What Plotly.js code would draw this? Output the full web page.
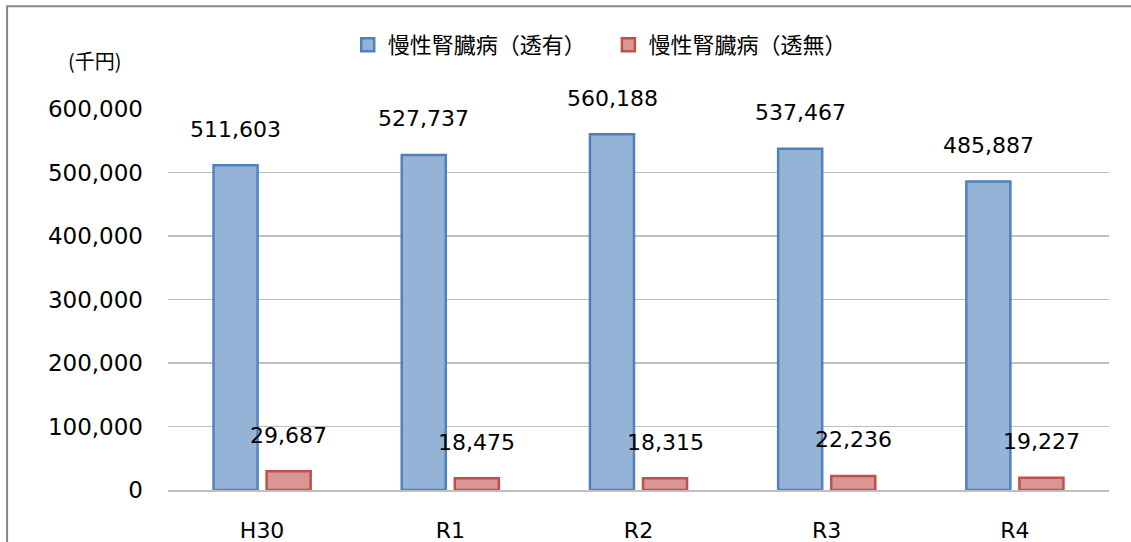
<!DOCTYPE html>
<html>
<head>
<meta charset="utf-8">
<script src="https://cdn.plot.ly/plotly-3.0.1.min.js"></script>
<style>
  html, body { margin: 0; padding: 0; background: #ffffff; }
  #chart { width: 1131px; height: 542px; }
</style>
</head>
<body>
<div id="chart"></div>
<script>
// data
const years = ["H30", "R1", "R2", "R3", "R4"];
const withDialysis = [511603, 527737, 560188, 537467, 485887];
const withoutDialysis = [29687, 18475, 18315, 22236, 19227];
const seriesNames = ["慢性腎臓病（透有）", "慢性腎臓病（透無）"];
const yTicks = [0, 100000, 200000, 300000, 400000, 500000, 600000];

const numFont = "DejaVu Sans, Noto Sans CJK JP, sans-serif";
const jpFont = "Noto Sans CJK JP, DejaVu Sans, sans-serif";

const blue = { fill: "#95B3D7", line: "#4F81BD" };
const red = { fill: "#DA9694", line: "#C0504D" };

const traces = [
  {
    type: "bar",
    x: years,
    y: withDialysis,
    name: seriesNames[0],
    marker: { color: blue.fill, line: { color: blue.line, width: 2.5 } },
    showlegend: false,
    hoverinfo: "none",
  },
  {
    type: "bar",
    x: years,
    y: withoutDialysis,
    name: seriesNames[1],
    marker: { color: red.fill, line: { color: red.line, width: 2.5 } },
    showlegend: false,
    hoverinfo: "none",
  },
  // legend-only entries so the swatches can be the bigger square like Excel
  {
    type: "scatter", mode: "markers", x: [null], y: [null],
    name: seriesNames[0], legend: "legend",
    marker: { symbol: "square", size: 13, color: blue.fill, line: { color: blue.line, width: 2.5 } },
  },
  {
    type: "scatter", mode: "markers", x: [null], y: [null],
    name: seriesNames[1], legend: "legend2",
    marker: { symbol: "square", size: 13, color: red.fill, line: { color: red.line, width: 2.5 } },
  },
];

// value labels sit a bit above each bar
const labels = [];
years.forEach((yr, i) => {
  labels.push({
    x: yr, y: withDialysis[i], xref: "x", yref: "y",
    text: withDialysis[i].toLocaleString("en-US"),
    showarrow: false, xshift: -26.5, yshift: 36,
    font: { family: numFont, size: 22, color: "#000" },
  });
  labels.push({
    x: yr, y: withoutDialysis[i], xref: "x", yref: "y",
    text: withoutDialysis[i].toLocaleString("en-US"),
    showarrow: false, xshift: 26.5, yshift: 36,
    font: { family: numFont, size: 22, color: "#000" },
  });
});
labels.push({
  x: -0.108, y: 1.17, xref: "paper", yref: "paper",
  text: "(千円)", showarrow: false,
  font: { family: jpFont, size: 20, color: "#000" },
});

const legendBase = {
  orientation: "h",
  yanchor: "middle",
  y: 1.168,
  xanchor: "left",
  font: { family: jpFont, size: 22, color: "#000" },
  bgcolor: "rgba(0,0,0,0)",
  itemclick: false,
  itemdoubleclick: false,
};

const layout = {
  width: 1131,
  height: 542,
  margin: { l: 168, r: 22, t: 109, b: 52 },
  paper_bgcolor: "#ffffff",
  plot_bgcolor: "#ffffff",
  barmode: "group",
  bargap: 0.436,
  bargroupgap: 0.17,
  showlegend: true,
  legend: Object.assign({}, legendBase, { x: 0.191 }),
  legend2: Object.assign({}, legendBase, { x: 0.468 }),
  xaxis: {
    type: "category",
    showgrid: false,
    showline: true,
    linecolor: "#BFBFBF",
    linewidth: 1.5,
    ticks: "",
    ticklabelstandoff: 20,
    tickfont: { family: numFont, size: 22, color: "#000" },
    fixedrange: true,
  },
  yaxis: {
    range: [0, 600000],
    tickvals: yTicks,
    ticktext: yTicks.map((v) => v.toLocaleString("en-US")),
    showgrid: true,
    gridcolor: "#BFBFBF",
    gridwidth: 1.5,
    zeroline: false,
    showline: false,
    ticks: "",
    ticklabelstandoff: 24,
    tickfont: { family: numFont, size: 23, color: "#000" },
    fixedrange: true,
  },
  annotations: labels,
  shapes: [
    {
      type: "path", xref: "paper", yref: "paper", layer: "below",
      path: "M -0.171 -0.2 L -0.171 1.270 L 1.05 1.270",
      line: { color: "#868686", width: 2 },
    },
  ],
};

Plotly.newPlot("chart", traces, layout, { displayModeBar: false, staticPlot: true });
</script>
</body>
</html>
